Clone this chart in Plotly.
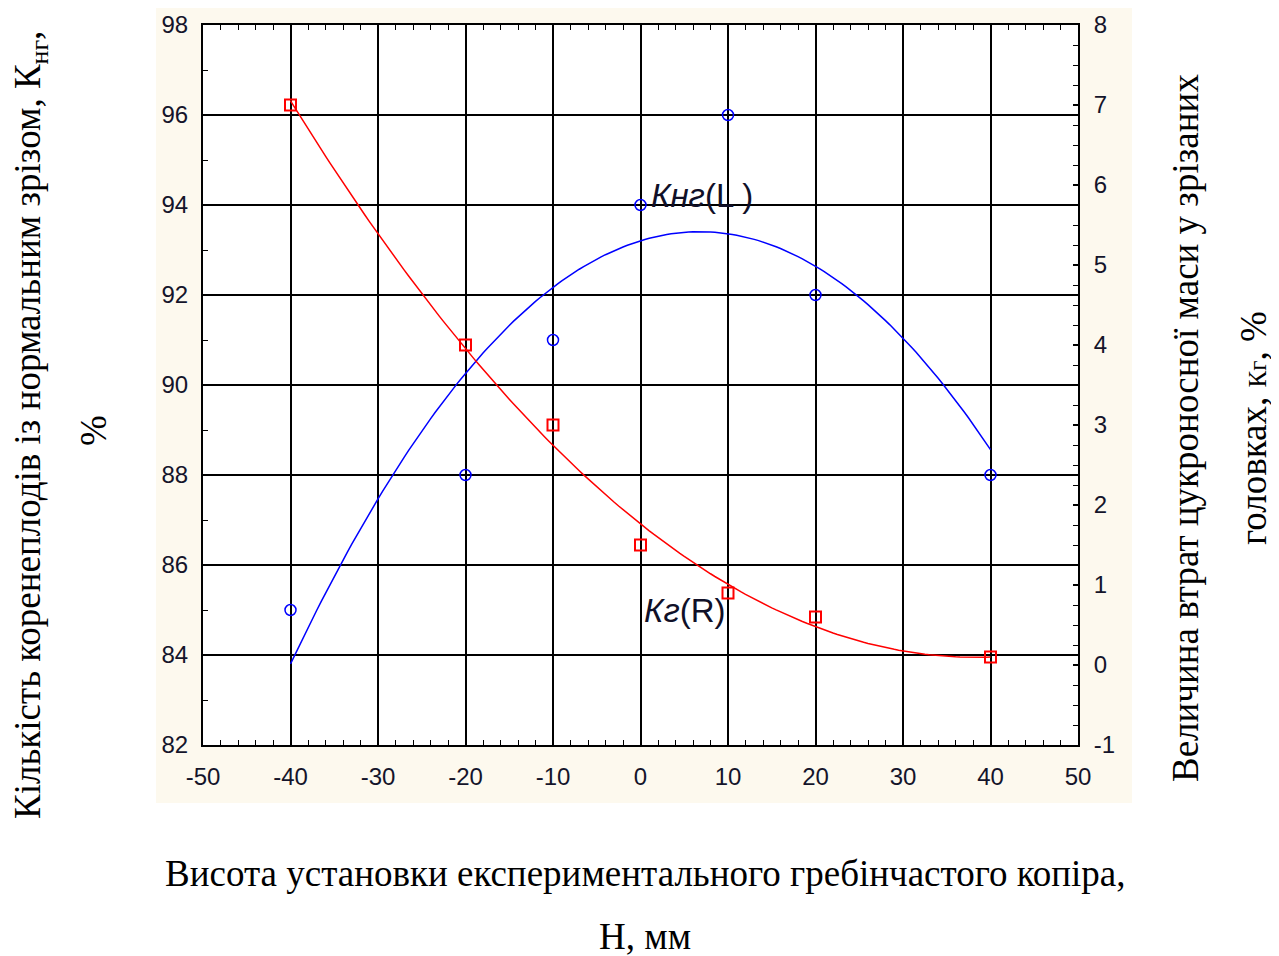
import numpy as np
import plotly.graph_objects as go

# Data
h_mm = [-40, -20, -10, 0, 10, 20, 40]          # Висота установки, мм
k_ng = [85, 88, 91, 94, 96, 92, 88]             # Кнг, % (left axis)
k_g = [7.0, 4.0, 3.0, 1.5, 0.9, 0.6, 0.1]       # Кг, % (right axis)

x_ticks = [-50, -40, -30, -20, -10, 0, 10, 20, 30, 40, 50]
x_labels = ["-50", "-40", "-30", "-20", "-10", "0", "10", "20", "30", "40", "50"]
y_left_ticks = [82, 84, 86, 88, 90, 92, 94, 96, 98]
y_right_ticks = [-1, 0, 1, 2, 3, 4, 5, 6, 7, 8]
y_right_labels = ["-1", "0", "1", "2", "3", "4", "5", "6", "7", "8"]

# Quadratic regression curves fitted to the measured points
xs = np.linspace(min(h_mm), max(h_mm), 161)
fit_ng = np.polyval(np.polyfit(h_mm, k_ng, 2), xs)
fit_g = np.polyval(np.polyfit(h_mm, k_g, 2), xs)

BLUE = "#0000FF"
RED = "#FF0000"
TICKCOL = "#14142a"
TICKFONT = dict(family="Liberation Sans, Arial, sans-serif", size=24, color=TICKCOL)
SERIF = "Liberation Serif, Times New Roman, serif"
TITLEFONT = dict(family=SERIF, size=37, color="black")
LEFTFONT = dict(family=SERIF, size=37, color="black")
LABFONT = dict(family="Liberation Sans, Arial, sans-serif", size=33, color="#101028")

fig = go.Figure()
fig.add_trace(go.Scatter(x=xs, y=fit_ng, mode="lines", line=dict(color=BLUE, width=1.5),
                         showlegend=False, hoverinfo="skip"))
fig.add_trace(go.Scatter(x=h_mm, y=k_ng, mode="markers",
                         marker=dict(symbol="circle-open", size=11, color=BLUE, line=dict(width=1.5)),
                         showlegend=False))
fig.add_trace(go.Scatter(x=xs, y=fit_g, mode="lines", line=dict(color=RED, width=1.5),
                         yaxis="y2", showlegend=False, hoverinfo="skip"))
fig.add_trace(go.Scatter(x=h_mm, y=k_g, mode="markers", yaxis="y2",
                         marker=dict(symbol="square-open", size=11, color=RED, line=dict(width=2)),
                         showlegend=False))

# page body has an 8px margin, so the figure is offset by 8px on screen
OFF = 8
PL, PR, PT, PB = 203, 1078, 25, 745   # plot area in screen pixels
W, H = 1279 - OFF, 956 - OFF
L, T = PL - OFF, PT - OFF
R = W - L - (PR - PL)
B = H - T - (PB - PT)


def px(xs_):
    return (xs_ - PL) / (PR - PL)


def py(ys_):
    return (PB - ys_) / (PB - PT)


fig.update_layout(
    width=W, height=H,
    margin=dict(l=L, r=R, t=T, b=B, pad=0, autoexpand=False),
    paper_bgcolor="white",
    plot_bgcolor="white",
    xaxis=dict(range=[-50, 50], tickvals=x_ticks, ticktext=x_labels, showgrid=True, gridcolor="black", gridwidth=2,
               showline=True, linecolor="black", linewidth=2, mirror="ticks", automargin=False,
               ticks="inside", ticklen=5, tickcolor="black", tickwidth=2,
               minor=dict(dtick=2, ticks="inside", ticklen=5, tickcolor="black", tickwidth=1, showgrid=False),
               tickfont=TICKFONT, ticklabelstandoff=9, zeroline=False),
    yaxis=dict(range=[82, 98], tickvals=y_left_ticks, showgrid=True, gridcolor="black", gridwidth=2,
               showline=True, linecolor="black", linewidth=2, automargin=False,
               ticks="inside", ticklen=5, tickcolor="black", tickwidth=2,
               minor=dict(dtick=1, ticks="inside", ticklen=5, tickcolor="black", tickwidth=1, showgrid=False),
               tickfont=TICKFONT, ticklabelstandoff=8, zeroline=False),
    yaxis2=dict(range=[-1, 8], tickvals=y_right_ticks, ticktext=y_right_labels, overlaying="y", side="right",
                showgrid=False, showline=True, linecolor="black", linewidth=2, automargin=False,
                ticks="inside", ticklen=5, tickcolor="black", tickwidth=2,
                minor=dict(dtick=0.25, ticks="inside", ticklen=5, tickcolor="black", tickwidth=1, showgrid=False),
                tickfont=TICKFONT, ticklabelstandoff=9, zeroline=False),
    shapes=[
        dict(type="rect", xref="paper", yref="paper", x0=px(156), x1=px(1132), y0=py(803), y1=py(6),
             fillcolor="#FDF9EE", line=dict(width=0), layer="below"),
        dict(type="rect", xref="paper", yref="paper", x0=0, x1=1, y0=0, y1=1,
             fillcolor="white", line=dict(width=0), layer="below"),
    ],
)

annots = [
    dict(x=1.0, y=94.22, xref="x", yref="y", text="<i>Кнг</i>(L )", xanchor="left", yanchor="middle",
         showarrow=False, font=LABFONT),
    dict(x=0.2, y=85.0, xref="x", yref="y", text="<i>Кг</i>(R)", xanchor="left", yanchor="middle",
         showarrow=False, font=LABFONT),
    dict(x=px(30), y=py(425), xref="paper", yref="paper", textangle=-90, showarrow=False,
         text="Кількість коренеплодів із нормальним зрізом, К<sub>нг</sub>,", font=LEFTFONT,
         xanchor="center", yanchor="middle"),
    dict(x=px(93), y=py(430), xref="paper", yref="paper", textangle=-90, showarrow=False,
         text="%", font=LEFTFONT, xanchor="center", yanchor="middle"),
    dict(x=px(1185), y=py(428), xref="paper", yref="paper", textangle=-90, showarrow=False,
         text="Величина втрат цукроносної маси у зрізаних", font=TITLEFONT,
         xanchor="center", yanchor="middle"),
    dict(x=px(1253), y=py(428), xref="paper", yref="paper", textangle=-90, showarrow=False,
         text="головках, <span style='font-size:25px'>Кг</span>, %", font=TITLEFONT,
         xanchor="center", yanchor="middle"),
    dict(x=px(645), y=py(873), xref="paper", yref="paper", showarrow=False,
         text="Висота установки експериментального гребінчастого копіра,", font=TITLEFONT,
         xanchor="center", yanchor="middle"),
    dict(x=px(645), y=py(936), xref="paper", yref="paper", showarrow=False,
         text="Н, мм", font=TITLEFONT, xanchor="center", yanchor="middle"),
]
fig.update_layout(annotations=annots)

fig.write_html("out.html")
